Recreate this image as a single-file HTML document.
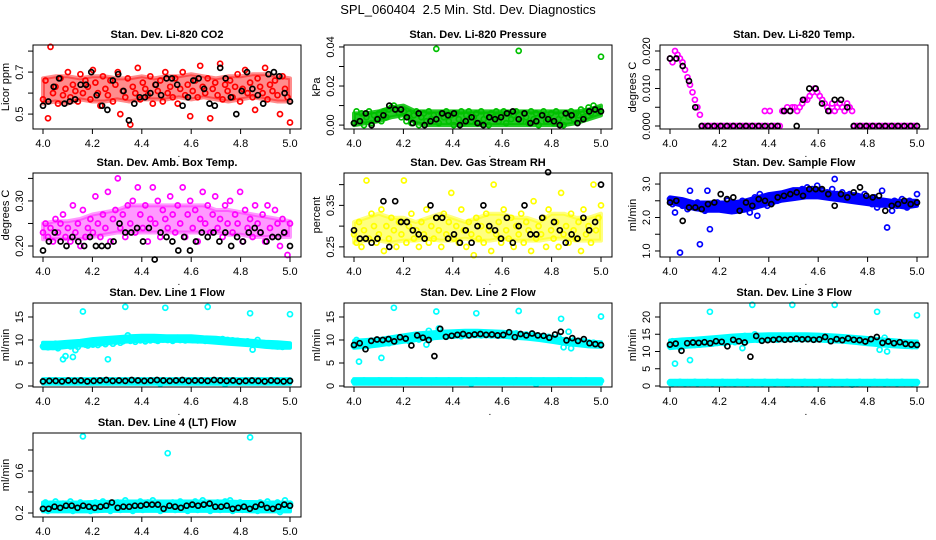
<!DOCTYPE html>
<html><head><meta charset="utf-8"><title>SPL_060404 2.5 Min. Std. Dev. Diagnostics</title>
<style>
html,body{margin:0;padding:0;background:#fff;}
svg{display:block;font-family:"Liberation Sans",Arial,sans-serif;}
</style></head>
<body>
<svg id="chart" width="936" height="540" viewBox="0 0 936 540" xmlns="http://www.w3.org/2000/svg">
<text x="468" y="14" text-anchor="middle" font-size="13" style="white-space:pre">SPL_060404  2.5 Min. Std. Dev. Diagnostics</text>
</svg>
<script>
const xTicks=[4.0,4.2,4.4,4.6,4.8,5.0];
const xTickLabels=["4.0","4.2","4.4","4.6","4.8","5.0"];
const co2Red=[0.57,0.66,0.48,0.82,0.60,0.63,0.55,0.67,0.59,0.62,0.70,0.58,0.64,0.61,0.56,0.69,0.60,0.66,0.63,0.57,0.71,0.65,0.60,0.54,0.68,0.62,0.59,0.66,0.56,0.64,0.70,0.50,0.61,0.58,0.67,0.45,0.63,0.60,0.72,0.57,0.65,0.62,0.59,0.68,0.55,0.64,0.61,0.66,0.56,0.70,0.60,0.63,0.58,0.67,0.55,0.62,0.70,0.59,0.64,0.49,0.61,0.66,0.58,0.73,0.63,0.60,0.67,0.48,0.62,0.65,0.59,0.74,0.57,0.64,0.61,0.66,0.58,0.63,0.69,0.56,0.62,0.71,0.60,0.65,0.58,0.52,0.67,0.63,0.60,0.72,0.57,0.64,0.61,0.66,0.59,0.50,0.68,0.62,0.58,0.46];
const co2BandLow=[0.55,0.56,0.55,0.57,0.56,0.56,0.57,0.56,0.57,0.57,0.57,0.58,0.57,0.58,0.57,0.56,0.57,0.58,0.57,0.56,0.56];
const co2BandHigh=[0.67,0.68,0.68,0.67,0.68,0.68,0.67,0.67,0.68,0.67,0.68,0.68,0.69,0.68,0.67,0.68,0.68,0.69,0.69,0.68,0.67];
const co2Black=[0.54,0.56,0.63,0.67,0.55,0.56,0.57,0.64,0.64,0.70,0.59,0.54,0.52,0.66,0.69,0.61,0.47,0.55,0.58,0.58,0.60,0.64,0.59,0.67,0.67,0.64,0.54,0.58,0.66,0.67,0.62,0.55,0.54,0.72,0.67,0.58,0.50,0.61,0.70,0.62,0.59,0.55,0.69,0.70,0.68,0.60,0.56];
const presGreen=[0.001,0.007,0.002,0.006,0.000,0.004,0.007,0.001,0.005,0.003,0.006,0.002,0.007,0.004,0.008,0.009,0.010,0.008,0.006,0.004,0.007,0.002,0.006,0.001,0.005,0.007,0.000,0.004,0.006,0.002,0.007,0.003,0.005,0.039,0.001,0.006,0.004,0.007,0.002,0.005,0.000,0.006,0.003,0.007,0.001,0.005,0.007,0.002,0.004,0.006,0.001,0.007,0.003,0.005,0.000,0.006,0.004,0.007,0.002,0.005,0.007,0.001,0.006,0.003,0.005,0.007,0.038,0.002,0.006,0.004,0.001,0.007,0.003,0.006,0.000,0.005,0.007,0.002,0.004,0.006,0.001,0.007,0.003,0.005,0.000,0.006,0.004,0.007,0.003,0.006,0.005,0.008,0.004,0.007,0.009,0.006,0.010,0.008,0.007,0.035];
const presBandLow=[0.000,0.001,0.002,0.004,0.005,0.001,0.000,0.000,0.000,0.000,0.000,0.000,0.000,0.000,0.000,0.000,0.000,0.000,0.001,0.003,0.005];
const presBandHigh=[0.006,0.006,0.007,0.009,0.010,0.007,0.007,0.007,0.007,0.007,0.007,0.007,0.007,0.007,0.007,0.007,0.007,0.007,0.007,0.008,0.010];
const presBlack=[0.001,0.002,0.006,0.000,0.003,0.005,0.010,0.008,0.008,0.004,0.001,0.006,0.000,0.002,0.003,0.006,0.005,0.006,0.000,0.002,0.004,0.001,0.000,0.004,0.003,0.004,0.006,0.007,0.003,0.006,0.001,0.002,0.005,0.003,0.002,0.000,0.006,0.005,0.001,0.003,0.007,0.008,0.007];
const tempMagenta=[0.018,0.017,0.020,0.019,0.018,0.017,0.015,0.013,0.011,0.009,0.007,0.005,0.003,0,0,0,0,0,0,0,0,0,0,0,0,0,0,0,0,0,0,0,0,0,0,0,0,0,0.004,0,0.004,0,0,0,0,0.004,0.004,0.005,0.004,0.005,0.005,0.004,0.005,0.006,0.007,0.007,0.008,0.009,0.010,0.009,0.008,0.007,0.006,0.005,0.004,0.006,0.004,0.005,0.006,0.005,0.004,0.006,0.005,0.004,0,0,0,0,0,0,0,0,0,0,0,0,0,0,0,0,0,0,0,0,0,0,0,0,0,0];
const tempBlack=[0.018,0.018,0.016,0.012,0.005,0,0,0,0,0,0,0,0,0,0,0,0,0,0.004,0.004,0,0.007,0.010,0.010,0.006,0.004,0.007,0.007,0.005,0,0,0,0,0,0,0,0,0,0,0];
const boxMagenta=[0.23,0.25,0.22,0.24,0.21,0.26,0.23,0.25,0.27,0.22,0.24,0.21,0.29,0.23,0.25,0.20,0.28,0.22,0.24,0.26,0.23,0.31,0.25,0.22,0.27,0.24,0.32,0.21,0.26,0.28,0.35,0.24,0.27,0.22,0.29,0.25,0.30,0.23,0.33,0.27,0.24,0.29,0.21,0.26,0.33,0.25,0.30,0.22,0.28,0.26,0.24,0.31,0.27,0.23,0.29,0.25,0.33,0.22,0.27,0.30,0.24,0.28,0.21,0.26,0.32,0.25,0.29,0.23,0.27,0.31,0.24,0.26,0.22,0.29,0.25,0.30,0.23,0.27,0.25,0.32,0.21,0.28,0.24,0.26,0.22,0.29,0.25,0.23,0.27,0.21,0.29,0.24,0.22,0.28,0.25,0.20,0.26,0.23,0.18,0.25];
const boxBandLow=[0.215,0.215,0.215,0.215,0.22,0.225,0.23,0.23,0.23,0.23,0.23,0.23,0.23,0.23,0.23,0.225,0.225,0.22,0.22,0.22,0.22];
const boxBandHigh=[0.25,0.255,0.255,0.26,0.27,0.275,0.28,0.29,0.29,0.29,0.29,0.29,0.29,0.29,0.28,0.28,0.275,0.27,0.265,0.26,0.255];
const boxBlack=[0.19,0.21,0.23,0.21,0.20,0.22,0.21,0.20,0.22,0.20,0.20,0.20,0.21,0.25,0.23,0.23,0.24,0.21,0.24,0.17,0.23,0.22,0.21,0.19,0.22,0.19,0.21,0.23,0.22,0.23,0.21,0.23,0.20,0.22,0.21,0.23,0.24,0.23,0.21,0.22,0.22,0.23,0.20];
const rhYellow=[0.28,0.26,0.31,0.25,0.29,0.41,0.27,0.33,0.30,0.26,0.28,0.34,0.24,0.30,0.27,0.32,0.29,0.25,0.31,0.28,0.41,0.26,0.30,0.33,0.27,0.29,0.25,0.31,0.28,0.34,0.26,0.30,0.27,0.32,0.29,0.25,0.33,0.28,0.31,0.38,0.27,0.30,0.26,0.34,0.29,0.25,0.31,0.28,0.23,0.32,0.27,0.30,0.26,0.33,0.29,0.24,0.40,0.28,0.31,0.26,0.34,0.29,0.27,0.32,0.25,0.30,0.28,0.33,0.26,0.31,0.29,0.24,0.36,0.27,0.30,0.28,0.32,0.25,0.34,0.29,0.27,0.31,0.25,0.38,0.28,0.30,0.26,0.33,0.29,0.27,0.31,0.24,0.34,0.28,0.30,0.26,0.40,0.29,0.32,0.35];
const rhBandLow=[0.26,0.265,0.265,0.26,0.265,0.265,0.27,0.265,0.265,0.27,0.265,0.265,0.27,0.265,0.265,0.265,0.27,0.27,0.265,0.265,0.265];
const rhBandHigh=[0.31,0.32,0.33,0.32,0.32,0.31,0.32,0.33,0.32,0.31,0.32,0.33,0.33,0.32,0.32,0.31,0.33,0.33,0.32,0.32,0.33];
const rhBlack=[0.29,0.27,0.27,0.26,0.27,0.36,0.25,0.36,0.31,0.31,0.29,0.28,0.27,0.35,0.32,0.32,0.27,0.28,0.26,0.29,0.26,0.30,0.35,0.30,0.29,0.27,0.32,0.26,0.30,0.35,0.28,0.28,0.32,0.43,0.31,0.29,0.26,0.28,0.27,0.32,0.29,0.31,0.40];
const flowBlue=[2.55,2.40,2.15,2.50,0.95,2.35,2.45,2.25,2.80,2.40,2.30,2.45,1.20,2.35,2.20,2.80,1.65,2.40,2.30,2.45,2.25,2.40,2.35,2.50,2.30,2.45,2.20,2.40,2.35,2.50,2.25,2.45,2.15,2.40,2.60,2.05,2.70,2.40,2.50,2.35,2.55,2.45,2.60,2.50,2.65,2.55,2.70,2.60,2.65,2.75,2.60,2.80,2.70,2.85,2.75,2.90,2.70,2.85,2.80,2.95,2.70,2.80,2.65,2.75,2.60,2.85,3.15,2.70,2.60,2.75,2.65,2.55,2.70,2.60,2.65,2.50,2.60,2.55,2.70,2.45,2.55,2.40,2.60,2.30,2.50,2.80,2.45,1.70,2.40,2.20,2.50,2.35,2.45,2.55,2.40,2.30,2.50,2.40,2.45,2.70];
const flowBandLow=[2.45,2.35,2.25,2.20,2.20,2.15,2.20,2.30,2.40,2.50,2.55,2.60,2.60,2.55,2.50,2.45,2.40,2.35,2.35,2.30,2.35];
const flowBandHigh=[2.60,2.55,2.45,2.45,2.45,2.45,2.50,2.60,2.70,2.75,2.85,2.85,2.80,2.75,2.70,2.70,2.60,2.55,2.50,2.50,2.50];
const flowBlack=[2.45,2.50,1.90,2.30,2.30,2.25,2.40,2.45,2.70,2.55,2.60,2.20,2.45,2.35,2.55,2.50,2.40,2.60,2.65,2.70,2.75,2.65,2.85,2.85,2.85,2.70,2.35,2.70,2.60,2.75,2.90,2.65,2.60,2.65,2.20,2.35,2.40,2.50,2.40,2.45];
const line1Cyan=[8.6,9.0,8.4,8.8,8.5,9.2,8.2,8.8,5.8,6.5,9.0,8.6,6.3,7.8,8.5,9.2,16.2,9.0,8.8,9.3,9.0,9.5,8.9,9.3,9.6,9.1,5.8,9.8,9.2,9.6,9.9,9.4,9.7,17.2,11.0,9.8,10.0,9.6,10.2,9.9,10.1,9.7,10.3,9.9,10.2,10.0,9.8,10.4,10.1,17.0,10.0,10.3,9.8,10.2,10.5,10.0,10.3,9.9,10.2,10.4,10.0,10.3,9.9,10.2,10.1,9.8,17.2,10.2,9.9,10.1,10.0,9.8,10.2,9.7,10.0,9.6,9.9,9.5,9.8,9.4,9.6,9.3,9.7,15.8,7.9,9.5,10.0,9.3,8.9,9.2,8.8,9.1,8.7,9.0,8.6,8.9,8.5,8.8,8.7,15.6];
const line1BandLow=[8.2,8.2,8.5,8.8,9.0,9.2,9.5,9.7,9.8,9.8,9.8,9.8,9.7,9.6,9.4,9.2,9.0,8.8,8.5,8.3,8.3];
const line1BandHigh=[9.4,9.4,9.6,9.8,10.2,10.4,10.6,10.8,10.9,10.9,10.8,10.8,10.8,10.6,10.5,10.2,10.0,9.8,9.6,9.5,9.3];
const line1Black=[1.0,1.1,1.1,1.0,1.2,1.1,1.2,1.0,1.1,1.2,1.3,1.1,1.2,1.1,1.3,1.2,1.1,1.2,1.3,1.2,1.1,1.2,1.3,1.1,1.2,1.2,1.1,1.3,1.2,1.1,1.2,1.0,1.1,1.2,1.1,1.0,1.2,1.1,1.0,1.1];
const lowCyan=[1.0,0.8,1.1,0.9,1.2,1.0,0.8,1.1,0.9,1.0,1.2,0.8,1.0,1.1,0.9,1.2,1.0,0.8,1.1,0.9,1.0,1.2,0.8,1.1,0.9,1.0,0.8,1.2,1.0,0.9,1.1,0.8,1.0,1.2,0.9,1.1,1.0,0.8,1.2,0.9,1.0,1.1,0.8,1.2,1.0,0.9,1.1,0.5,1.0,1.2,0.9,1.1,1.0,0.8,1.2,0.9,1.0,1.1,0.8,1.0,1.2,0.9,1.1,1.0,0.8,1.2,0.9,1.0,1.1,0.8,1.0,1.2,0.9,0.4,1.0,0.8,1.2,0.9,1.0,1.1,0.8,1.0,1.2,0.9,1.1,1.0,0.8,1.2,0.9,1.0,1.1,0.8,1.0,1.2,0.9,1.1,1.0,0.8,1.0,1.1];
const lowBandLow=[0.5,0.5,0.5,0.5,0.5,0.5,0.5,0.5,0.5,0.5,0.5,0.5,0.5,0.5,0.5,0.5,0.5,0.5,0.5,0.5,0.5];
const lowBandHigh=[1.5,1.5,1.5,1.5,1.5,1.5,1.5,1.5,1.5,1.5,1.5,1.5,1.5,1.5,1.5,1.5,1.5,1.5,1.5,1.5,1.5];
const line2Cyan=[8.7,10.0,5.3,9.0,8.6,9.3,8.8,9.5,9.0,9.6,9.2,6.1,9.5,9.8,9.3,10.0,17.0,9.7,10.2,9.9,10.3,10.0,9.8,10.5,10.2,10.6,10.1,10.4,10.8,9.0,12.0,10.5,11.0,16.2,12.5,10.8,11.2,10.7,11.0,11.3,10.9,11.2,11.4,10.8,11.3,11.0,11.5,11.1,11.3,15.8,11.2,11.0,11.4,11.1,11.5,11.0,11.3,11.2,10.9,11.4,11.1,11.3,10.9,11.2,11.0,11.4,16.3,11.1,10.8,11.2,11.0,10.8,11.1,10.6,10.9,10.5,10.8,10.4,10.7,10.3,10.5,10.2,10.6,14.6,8.4,10.0,11.8,8.2,9.9,9.6,9.8,9.5,9.7,9.3,9.5,9.1,9.4,9.0,9.2,15.1];
const line2BandLow=[8.3,8.5,8.8,9.2,9.6,10.0,10.3,10.5,10.7,10.8,10.8,10.8,10.7,10.5,10.3,10.0,9.6,9.2,8.9,8.6,8.5];
const line2BandHigh=[9.8,10.0,10.2,10.6,11.0,11.4,11.6,11.8,11.9,12.0,12.0,11.9,11.8,11.6,11.3,11.0,10.6,10.2,9.8,9.6,9.5];
const line2Black=[8.9,9.3,8.0,9.8,10.1,10.0,10.2,9.7,10.6,10.3,8.8,11.0,10.5,10.0,6.5,12.4,10.7,10.9,11.1,11.3,11.0,11.2,11.3,11.1,11.2,11.0,11.1,11.7,10.6,11.3,11.0,11.4,11.0,10.9,10.5,11.2,11.8,9.9,10.4,9.8,10.2,9.3,9.1,8.9];
const line3Cyan=[11.5,13.0,6.5,12.0,11.2,12.4,11.8,12.6,7.5,12.2,11.9,12.4,12.0,12.8,12.2,12.6,21.5,12.3,12.9,12.5,13.0,12.6,12.4,13.2,12.8,13.3,12.7,13.0,13.5,11.0,14.5,13.2,13.6,23.5,15.0,13.4,13.8,13.3,13.6,13.9,13.5,13.8,14.0,13.4,13.9,13.6,14.1,13.7,13.9,23.5,13.8,13.6,14.0,13.7,14.1,13.6,13.9,13.8,13.5,14.0,13.7,13.9,13.5,13.8,13.6,14.0,23.5,13.7,13.4,13.8,13.6,13.4,13.7,13.2,13.5,13.1,13.4,13.0,13.3,12.9,13.1,12.8,13.2,21.5,10.5,12.6,14.0,10.0,12.5,12.2,12.4,12.1,12.3,11.9,12.1,11.7,12.0,11.6,11.8,20.5];
const line3BandLow=[11.0,11.3,11.5,11.8,12.2,12.6,12.9,13.1,13.2,13.3,13.3,13.3,13.2,13.0,12.8,12.5,12.1,11.8,11.5,11.3,11.2];
const line3BandHigh=[13.2,13.5,13.7,14.0,14.3,14.6,14.8,14.9,15.0,15.0,15.0,15.0,14.9,14.7,14.5,14.2,13.9,13.6,13.3,13.0,12.9];
const line3Black=[12.0,12.3,10.2,12.4,12.6,12.5,12.7,12.4,13.0,12.8,11.5,13.4,13.0,12.6,8.5,14.5,13.1,13.3,13.4,13.6,13.4,13.5,13.7,13.5,13.6,13.4,13.5,14.2,13.0,13.6,13.3,13.8,13.4,13.3,12.9,13.6,14.2,12.5,12.9,12.4,12.7,12.2,12.0,11.9];
const line4Cyan=[0.24,0.30,0.22,0.28,0.25,0.31,0.23,0.27,0.29,0.24,0.26,0.31,0.22,0.28,0.25,0.30,0.93,0.24,0.29,0.22,0.27,0.30,0.23,0.26,0.31,0.24,0.28,0.22,0.29,0.25,0.30,0.23,0.27,0.32,0.24,0.29,0.22,0.28,0.25,0.31,0.23,0.27,0.30,0.24,0.32,0.26,0.29,0.22,0.28,0.25,0.77,0.24,0.30,0.23,0.27,0.31,0.25,0.29,0.22,0.28,0.26,0.31,0.23,0.27,0.32,0.24,0.29,0.22,0.28,0.25,0.30,0.23,0.27,0.31,0.24,0.32,0.22,0.28,0.25,0.30,0.23,0.27,0.29,0.92,0.24,0.28,0.22,0.30,0.25,0.27,0.31,0.23,0.28,0.24,0.30,0.21,0.28,0.32,0.25,0.29];
const line4BandLow=[0.215,0.215,0.215,0.215,0.215,0.22,0.22,0.22,0.22,0.22,0.22,0.22,0.22,0.22,0.22,0.22,0.22,0.215,0.215,0.215,0.215];
const line4BandHigh=[0.30,0.30,0.30,0.30,0.305,0.305,0.31,0.31,0.31,0.31,0.31,0.31,0.31,0.31,0.31,0.31,0.305,0.305,0.30,0.30,0.30];
const line4Black=[0.24,0.24,0.26,0.25,0.27,0.27,0.25,0.27,0.26,0.25,0.26,0.27,0.30,0.25,0.26,0.26,0.27,0.27,0.28,0.28,0.28,0.24,0.27,0.26,0.25,0.27,0.28,0.27,0.28,0.29,0.26,0.26,0.27,0.24,0.25,0.26,0.24,0.26,0.28,0.25,0.24,0.26,0.28,0.27];

const NS="http://www.w3.org/2000/svg";
const svg=document.getElementById('chart');
function mk(tag,attrs,parent){const e=document.createElementNS(NS,tag);for(const k in attrs)e.setAttribute(k,attrs[k]);(parent||svg).appendChild(e);return e;}

const colLeft=[33,344,660], rowTop=[45,173,303,433], BW=268, BH=84;
const panels=[
 {name:'co2',title:'Stan. Dev. Li-820 CO2',ylab:'Licor ppm',c:0,r:0,ymin:0.429,ymax:0.829,ticks:[0.5,0.6,0.7,0.8],labels:{0.5:'0.5',0.7:'0.7'},bands:[[co2BandLow,co2BandHigh,'#ff0000',0.45]],series:[[co2Red,'#ff0000'],[co2Black,'#000']]},
 {name:'pressure',title:'Stan. Dev. Li-820 Pressure',ylab:'kPa',c:1,r:0,ymin:-0.002,ymax:0.041,ticks:[0,0.01,0.02,0.03,0.04],labels:{0:'0.00',0.02:'0.02',0.04:'0.04'},bands:[[presBandLow,presBandHigh,'#00c000',0.85]],series:[[presGreen,'#00c000'],[presBlack,'#000']]},
 {name:'temp',title:'Stan. Dev. Li-820 Temp.',ylab:'degrees C',c:2,r:0,ymin:-0.0008,ymax:0.0216,ticks:[0,0.005,0.01,0.015,0.02],labels:{0:'0.000',0.01:'0.010',0.02:'0.020'},bands:[],series:[[tempMagenta,'#ff00ff'],[tempBlack,'#000']]},
 {name:'box-temp',title:'Stan. Dev. Amb. Box Temp.',ylab:'degrees C',c:0,r:1,ymin:0.1756,ymax:0.362,ticks:[0.2,0.25,0.3,0.35],labels:{0.2:'0.20',0.3:'0.30'},bands:[[boxBandLow,boxBandHigh,'#ff00ff',0.4]],series:[[boxMagenta,'#ff00ff'],[boxBlack,'#000']]},
 {name:'rh',title:'Stan. Dev. Gas Stream RH',ylab:'percent',c:1,r:1,ymin:0.2256,ymax:0.428,ticks:[0.25,0.3,0.35,0.4],labels:{0.25:'0.25',0.35:'0.35'},bands:[[rhBandLow,rhBandHigh,'#ffff00',0.5]],series:[[rhYellow,'#ffff00'],[rhBlack,'#000']]},
 {name:'sample-flow',title:'Stan. Dev. Sample Flow',ylab:'ml/min',c:2,r:1,ymin:0.82,ymax:3.33,ticks:[1,1.5,2,2.5,3],labels:{1:'1.0',2:'2.0',3:'3.0'},bands:[[flowBandLow,flowBandHigh,'#0000ff',1]],series:[[flowBlue,'#0000ff'],[flowBlack,'#000']]},
 {name:'line1-flow',title:'Stan. Dev. Line 1 Flow',ylab:'ml/min',c:0,r:2,ymin:-0.22,ymax:18.04,ticks:[0,5,10,15],labels:{0:'0',5:'5',10:'10',15:'15'},bands:[[line1BandLow,line1BandHigh,'#00ffff',1],[lowBandLow,lowBandHigh,'#00ffff',1]],series:[[line1Cyan,'#00ffff'],[lowCyan,'#00ffff'],[line1Black,'#000']]},
 {name:'line2-flow',title:'Stan. Dev. Line 2 Flow',ylab:'ml/min',c:1,r:2,ymin:-0.22,ymax:18.04,ticks:[0,5,10,15],labels:{0:'0',5:'5',10:'10',15:'15'},bands:[[line2BandLow,line2BandHigh,'#00ffff',1],[lowBandLow,lowBandHigh,'#00ffff',1]],series:[[line2Cyan,'#00ffff'],[lowCyan,'#00ffff'],[line2Black,'#000']]},
 {name:'line3-flow',title:'Stan. Dev. Line 3 Flow',ylab:'ml/min',c:2,r:2,ymin:-0.29,ymax:24.06,ticks:[0,5,10,15,20],labels:{0:'0',5:'5',10:'10',15:'15',20:'20'},bands:[[line3BandLow,line3BandHigh,'#00ffff',1],[lowBandLow,lowBandHigh,'#00ffff',1]],series:[[line3Cyan,'#00ffff'],[lowCyan,'#00ffff'],[line3Black,'#000']]},
 {name:'line4-flow',title:'Stan. Dev. Line 4 (LT) Flow',ylab:'ml/min',c:0,r:3,ymin:0.162,ymax:0.962,ticks:[0.2,0.4,0.6,0.8],labels:{0.2:'0.2',0.6:'0.6'},bands:[[line4BandLow,line4BandHigh,'#00ffff',1]],series:[[line4Cyan,'#00ffff'],[line4Black,'#000']]}
];

panels.forEach(p=>{
  const L=colLeft[p.c], T=rowTop[p.r], B=T+BH;
  const xs=v=>L+10+(v-4)*247;
  const ys=v=>B-(v-p.ymin)/(p.ymax-p.ymin)*BH;
  const g=mk('g',{});
  
  
  const t=mk('text',{x:L+BW/2,y:T-7,'text-anchor':'middle','font-size':'11','font-weight':'bold'},g);
  t.textContent=p.title;
  
  
  p.bands.forEach(([lo,hi,col,op])=>{
    const n=lo.length;
    const top=hi.map((v,i)=>xs(4+i/(n-1)).toFixed(1)+','+ys(v).toFixed(1));
    const bot=lo.map((v,i)=>xs(4+i/(n-1)).toFixed(1)+','+ys(v).toFixed(1)).reverse();
    const pg=mk('polygon',{points:top.concat(bot).join(' '),fill:col,stroke:col,'stroke-width':'4','stroke-linejoin':'round','fill-opacity':op,'stroke-opacity':op},g);
    
    
  });
  const pts=mk('g',{fill:'none','stroke-width':'1.7'},g);
  
  
  p.series.forEach(([arr,col])=>{
    const n=arr.length;
    arr.forEach((v,i)=>{
      const x=4+(n>1?i/(n-1):0);
      const c=mk('circle',{cx:xs(x).toFixed(1),cy:ys(v).toFixed(1),r:'2.5',stroke:col},pts);
      
      
    });
  });
  const bx=mk('rect',{x:L,y:T,width:BW,height:BH,fill:'none',stroke:'#000','stroke-width':'1'},g);
  
  
  const xa=mk('g',{},g);
  
  
  mk('line',{x1:xs(4),x2:xs(5),y1:B,y2:B,stroke:'#000'},xa);
  xTicks.forEach((v,i)=>{
    mk('line',{x1:xs(v),x2:xs(v),y1:B,y2:B+5,stroke:'#000'},xa);
    const tl=mk('text',{x:xs(v),y:B+18,'text-anchor':'middle','font-size':'11'},xa);
    tl.textContent=xTickLabels[i];
    
    
  });
  const xt=mk('text',{x:xs(4.55),y:B+28,'text-anchor':'middle','font-size':'10'},xa);
  xt.textContent='.';
  
  
  const ya=mk('g',{},g);
  
  
  mk('line',{x1:L,x2:L,y1:ys(p.ticks[0]),y2:ys(p.ticks[p.ticks.length-1]),stroke:'#000'},ya);
  p.ticks.forEach(v=>{
    mk('line',{x1:L-5,x2:L,y1:ys(v),y2:ys(v),stroke:'#000'},ya);
    const lab=p.labels[v];
    if(lab!==undefined){
      const tx=L-10, ty=ys(v);
      const yl=mk('text',{x:tx,y:ty,'text-anchor':'middle','font-size':'11',transform:`rotate(-90 ${tx} ${ty})`},ya);
      yl.textContent=lab;
      
      
    }
  });
  const yx=L-24, yy=T+BH/2;
  const yt=mk('text',{x:yx,y:yy,'text-anchor':'middle','font-size':'11',transform:`rotate(-90 ${yx} ${yy})`},ya);
  yt.textContent=p.ylab;
  
  
});
</script>
</body></html>
